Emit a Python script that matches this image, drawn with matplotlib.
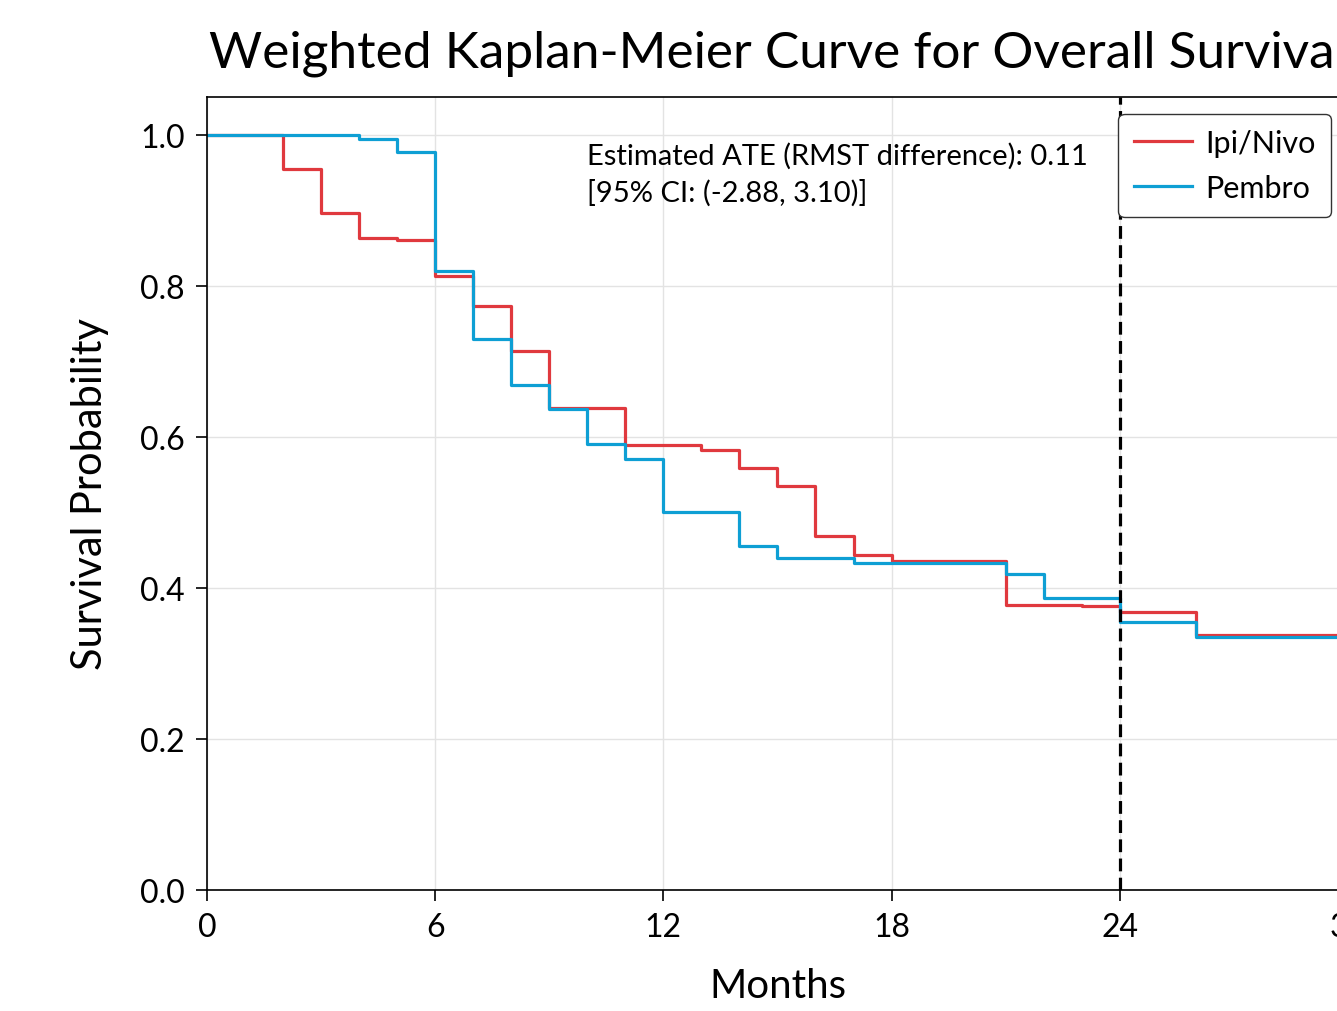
import matplotlib
matplotlib.use("Agg")
import matplotlib.pyplot as plt

plt.rcParams['font.family'] = ['Lato', 'DejaVu Sans']

# step times (months) and survival values
ipi_t = [0, 2, 3, 4, 5, 6, 7, 8, 9, 11, 13, 14, 15, 16, 17, 18, 21, 23, 24, 26, 30]
ipi_s = [1.0, 0.955, 0.897, 0.863, 0.860, 0.813, 0.773, 0.714, 0.638, 0.589,
         0.583, 0.559, 0.535, 0.469, 0.444, 0.435, 0.377, 0.376, 0.368, 0.338, 0.338]

pem_t = [0, 4, 5, 6, 7, 8, 9, 10, 11, 12, 14, 15, 17, 21, 22, 24, 26, 30]
pem_s = [1.0, 0.994, 0.977, 0.820, 0.730, 0.668, 0.637, 0.590, 0.570, 0.500,
         0.456, 0.439, 0.433, 0.419, 0.387, 0.355, 0.335, 0.335]

xticks = [0, 6, 12, 18, 24, 30]
yticks = [0.0, 0.2, 0.4, 0.6, 0.8, 1.0]
tau = 24
note = "Estimated ATE (RMST difference): 0.11\n[95% CI: (-2.88, 3.10)]"

fig = plt.figure(figsize=(13.37, 10.12), dpi=100)
ax = fig.add_axes([0.1548, 0.1196, 0.8534, 0.7836])

ax.step(ipi_t, ipi_s, where='post', color='#e0393e', lw=2.3, label='Ipi/Nivo')
ax.step(pem_t, pem_s, where='post', color='#0e9fd4', lw=2.3, label='Pembro')
ax.axvline(tau, color='black', ls='--', lw=2.3, dashes=(4, 2))

ax.set_xlim(0, 30)
ax.set_ylim(0, 1.05)
ax.set_xticks(xticks)
ax.set_yticks(yticks)
ax.set_yticklabels([f"{v:.1f}" for v in yticks])
ax.grid(True, color='#e3e3e3', lw=1.0)
ax.set_axisbelow(True)
ax.tick_params(labelsize=23, length=8, width=1.2, pad=8)
for s in ax.spines.values():
    s.set_linewidth(1.2)

ax.set_xlabel("Months", fontsize=29, labelpad=18)
ax.set_ylabel("Survival Probability", fontsize=30, labelpad=22)
ax.set_title("Weighted Kaplan-Meier Curve for Overall Survival", fontsize=37, pad=22)

ax.text(10.0, 0.99, note, fontsize=21, va='top', ha='left', linespacing=1.4)

ax.legend(loc='upper right', fontsize=22, frameon=True, edgecolor='#333333',
          fancybox=True, handlelength=1.9, labelspacing=0.55, borderpad=0.5,
          handletextpad=0.45, borderaxespad=0.55, framealpha=1)

fig.savefig("out.png", dpi=100)
